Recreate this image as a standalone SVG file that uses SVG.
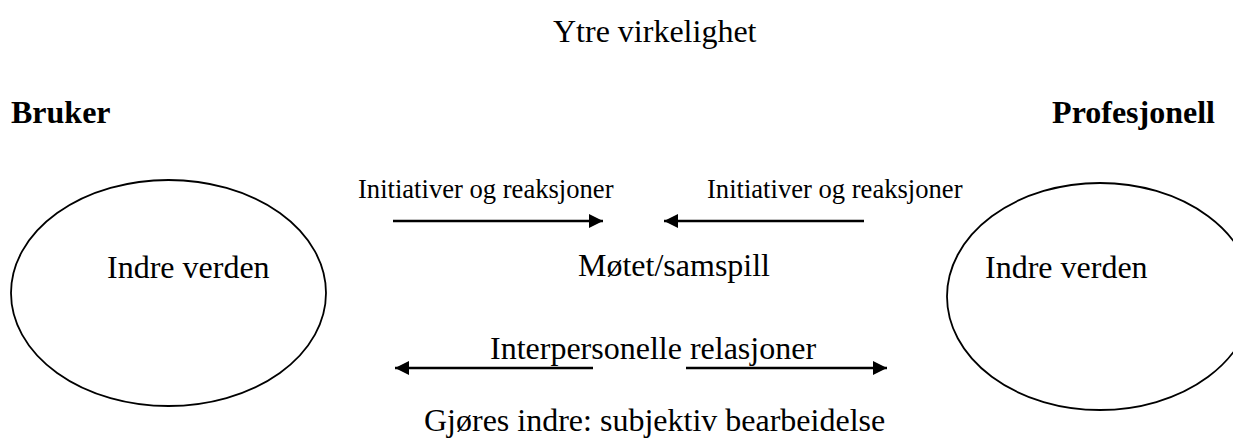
<svg xmlns="http://www.w3.org/2000/svg" width="1233" height="446" viewBox="0 0 1233 446">
<style>
text{font-family:"Liberation Serif","Times New Roman",serif;fill:#000}
.t{font-size:32px}
.s{font-size:26.6px}
.b{font-size:32px;font-weight:bold}
.e{fill:none;stroke:#000;stroke-width:1.8}
.c line{stroke:#000;stroke-width:2.6}
</style>
<defs>
<marker id="ah" viewBox="0 0 10 10" refX="10" refY="5" markerWidth="17" markerHeight="14" markerUnits="userSpaceOnUse" orient="auto"><path d="M0,0 L10,5 L0,10 z" fill="#000"/></marker>
</defs>
<rect width="1233" height="446" fill="#fff"/>
<text class="t" x="553" y="42">Ytre virkelighet</text>
<g id="bruker"><text class="b" x="11" y="123">Bruker</text></g>
<g id="profesjonell"><text class="b" x="1215" y="123" text-anchor="end">Profesjonell</text></g>
<g id="indre-bruker">
<ellipse class="e" cx="168.5" cy="293" rx="157.5" ry="113"/>
<text class="t" x="107" y="278">Indre verden</text>
</g>
<g id="indre-prof">
<ellipse class="e" cx="1100" cy="296.5" rx="153" ry="113.5"/>
<text class="t" x="985" y="278">Indre verden</text>
</g>
<g id="motet"><text class="t" x="578" y="276">Møtet/samspill</text></g>
<g id="labels">
<text class="s" x="358" y="198">Initiativer og reaksjoner</text>
<text class="s" x="707" y="198">Initiativer og reaksjoner</text>
<text class="t" x="490" y="359">Interpersonelle relasjoner</text>
<text class="t" x="424" y="431">Gjøres indre: subjektiv bearbeidelse</text>
</g>
<g id="connectors" class="c">
<line x1="393" y1="221" x2="603" y2="221" marker-end="url(#ah)"/>
<line x1="864" y1="221" x2="664" y2="221" marker-end="url(#ah)"/>
<line x1="593" y1="368" x2="395" y2="368" marker-end="url(#ah)"/>
<line x1="686" y1="368" x2="887" y2="368" marker-end="url(#ah)"/>
</g>
</svg>
